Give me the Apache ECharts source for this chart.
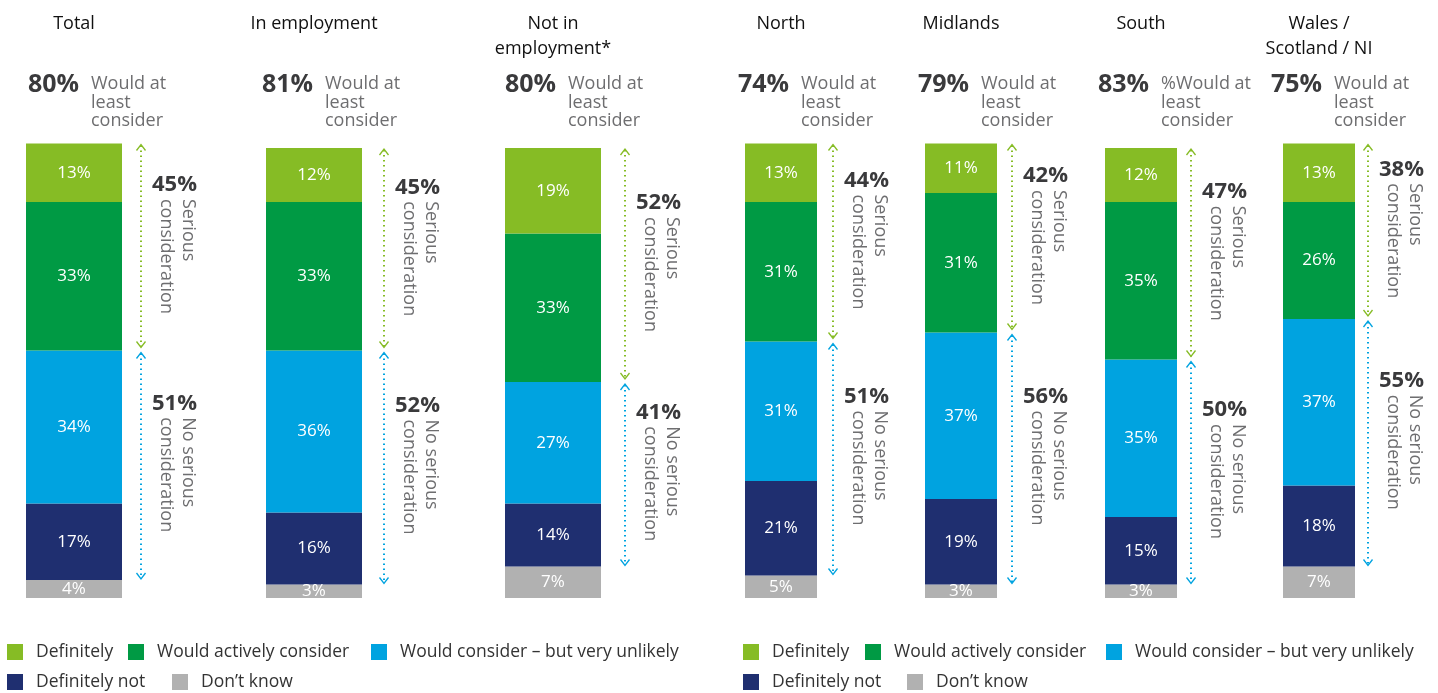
<!DOCTYPE html>
<html>
<head>
<meta charset="utf-8">
<script src="https://cdn.jsdelivr.net/npm/echarts@6/dist/echarts.min.js"></script>
<style>
  html, body { margin: 0; padding: 0; background: #fff; }
  #chart { width: 1438px; height: 693px; }
</style>
</head>
<body>
<div id="chart"></div>
<script>
// Survey groups and their answer shares (%)
const categories = ['Total', 'In employment', 'Not in\nemployment*', 'North', 'Midlands', 'South', 'Wales /\nScotland / NI'];
const definitely = [13, 12, 19, 13, 11, 12, 13];
const activelyConsider = [33, 33, 33, 31, 31, 35, 26];
const unlikely = [34, 36, 27, 31, 37, 35, 37];
const definitelyNot = [17, 16, 14, 21, 19, 15, 18];
const dontKnow = [4, 3, 7, 5, 3, 3, 7];
const atLeastConsider = [80, 81, 80, 74, 79, 83, 75];
const seriousShare = [45, 45, 52, 44, 42, 47, 38];
const noSeriousShare = [51, 52, 41, 51, 56, 50, 55];
const headlineCaptions = ['Would at\nleast\nconsider', 'Would at\nleast\nconsider', 'Would at\nleast\nconsider',
  'Would at\nleast\nconsider', 'Would at\nleast\nconsider', '%Would at\nleast\nconsider', 'Would at\nleast\nconsider'];

const seriesNames = ['Definitely', 'Would actively consider', 'Would consider \u2013 but very unlikely', 'Definitely not', 'Don\u2019t know'];
const seriesValues = [definitely, activelyConsider, unlikely, definitelyNot, dontKnow];
const colors = ['#86BC25', '#009A44', '#00A3E0', '#1F2F70', '#B1B1B1'];

// Panel layout (pixels)
const barLeft = [26, 266, 505, 745, 925, 1105, 1283];
const barWidth = [96, 96, 96, 72, 72, 72, 72];
const arrowGap = [19, 22, 24, 16, 15, 14, 13];
const headlineLeft = [28, 262, 505, 738, 918, 1098, 1271];

const FONT = '"Open Sans", "Noto Sans", sans-serif';
const GREEN = '#86BC25';
const BLUE = '#00A3E0';
const DARK = '#3A3A3C';
const GREY_TEXT = '#6E6E70';

const chart = echarts.init(document.getElementById('chart'), null, { renderer: 'canvas' });

const grids = [], xAxes = [], yAxes = [], series = [];

function chevron(x, y, dir, color) {
  // dir = -1 points up, +1 points down
  return {
    type: 'polyline',
    shape: { points: [[x - 4.5, y - dir * 6], [x, y], [x + 4.5, y - dir * 6]] },
    style: { stroke: color, lineWidth: 1.3, fill: null }
  };
}

function dotted(x, y1, y2, color) {
  return {
    type: 'line',
    shape: { x1: x, y1: y1, x2: x, y2: y2 },
    style: { stroke: color, lineWidth: 2, lineDash: [1.6, 3.4] }
  };
}

function noteBlock(x, yc, pct, lines) {
  return [
    {
      type: 'text', x: x, y: yc - 73,
      style: { text: pct + '%', fill: DARK, fontFamily: FONT, fontWeight: 'bold', fontSize: 22, align: 'left', verticalAlign: 'top' }
    },
    {
      type: 'text', x: x + 47, y: yc - 48, rotation: -Math.PI / 2,
      style: { text: lines, fill: GREY_TEXT, fontFamily: FONT, fontSize: 18, lineHeight: 22, align: 'left', verticalAlign: 'top' }
    }
  ];
}

// Stacked bars are built bottom-up: don't know, definitely not, unlikely, actively, definitely
const order = [4, 3, 2, 1, 0];
categories.forEach(function (cat, i) {
  grids.push({ left: barLeft[i], width: barWidth[i], top: 103, bottom: 95 });
  xAxes.push({ type: 'category', gridIndex: i, data: [cat], show: false });
  yAxes.push({ type: 'value', gridIndex: i, min: 0, max: 110, show: false });

  order.forEach(function (k) {
    series.push({
      name: seriesNames[k],
      type: 'bar',
      xAxisIndex: i,
      yAxisIndex: i,
      stack: 'panel' + i,
      barWidth: '100%',
      itemStyle: { color: colors[k] },
      label: {
        show: true, position: 'inside', formatter: '{c}%',
        color: '#fff', fontFamily: FONT, fontSize: 17
      },
      emphasis: { disabled: true },
      data: [seriesValues[k][i]]
    });
  });

  const grayTop = dontKnow[i];
  const midline = dontKnow[i] + definitelyNot[i] + unlikely[i];
  const barTop = midline + activelyConsider[i] + definitely[i];

  // Serious / no serious consideration brackets beside each bar
  series.push({
    type: 'custom',
    xAxisIndex: i,
    yAxisIndex: i,
    silent: true,
    clip: false,
    encode: { x: 0, y: [1, 2, 3] },
    data: [[0, barTop, midline, grayTop, seriousShare[i], noSeriousShare[i]]],
    renderItem: function (params, api) {
      const top = api.coord([0, api.value(1)]);
      const yMid = api.coord([0, api.value(2)])[1];
      const yBot = api.coord([0, api.value(3)])[1];
      const half = api.size([1, 0])[0] / 2;
      const ax = top[0] + half + arrowGap[i];
      const yTop = top[1];
      const c1 = (yTop + yMid) / 2;
      const c2 = (yMid + yBot) / 2;
      const children = [
        dotted(ax, yTop + 2, yMid - 3, GREEN),
        chevron(ax, yTop + 1, -1, GREEN),
        chevron(ax, yMid - 3, 1, GREEN),
        dotted(ax, yMid + 3, yBot - 2, BLUE),
        chevron(ax, yMid + 2, -1, BLUE),
        chevron(ax, yBot - 1, 1, BLUE)
      ].concat(
        noteBlock(ax + 11, c1, api.value(4), 'Serious\nconsideration'),
        noteBlock(ax + 11, c2, api.value(5), 'No serious\nconsideration')
      );
      return { type: 'group', children: children };
    }
  });
});

// Panel headings and headline shares
const graphics = [];
categories.forEach(function (cat, i) {
  graphics.push({
    type: 'text', x: barLeft[i] + barWidth[i] / 2, y: 11,
    style: { text: cat, fill: '#111', fontFamily: FONT, fontSize: 18, lineHeight: 25, align: 'center', verticalAlign: 'top' }
  });
  graphics.push({
    type: 'text', x: headlineLeft[i], y: 72,
    style: { text: atLeastConsider[i] + '%', fill: DARK, fontFamily: FONT, fontWeight: 'bold', fontSize: 25, align: 'left', verticalAlign: 'top' }
  });
  graphics.push({
    type: 'text', x: headlineLeft[i] + 63, y: 75,
    style: { text: headlineCaptions[i], fill: GREY_TEXT, fontFamily: FONT, fontSize: 18, lineHeight: 18.5, align: 'left', verticalAlign: 'top' }
  });
});

// Legend entries, one per item so each sits at its own place
const legendSpots = [
  [7, 643, 0], [128, 643, 1], [371, 643, 2], [7, 673, 3], [172, 673, 4],
  [743, 643, 0], [865, 643, 1], [1106, 643, 2], [743, 673, 3], [907, 673, 4]
];
const legends = legendSpots.map(function (s) {
  return {
    left: s[0], top: s[1], padding: 0,
    itemWidth: 16, itemHeight: 16, icon: 'rect',
    selectedMode: false,
    data: [seriesNames[s[2]]],
    textStyle: { color: '#333', fontFamily: FONT, fontSize: 17.5, padding: [0, 0, 0, 8] }
  };
});

chart.setOption({
  animation: false,
  textStyle: { fontFamily: FONT },
  grid: grids,
  xAxis: xAxes,
  yAxis: yAxes,
  legend: legends,
  graphic: graphics,
  series: series
});
</script>
</body>
</html>
